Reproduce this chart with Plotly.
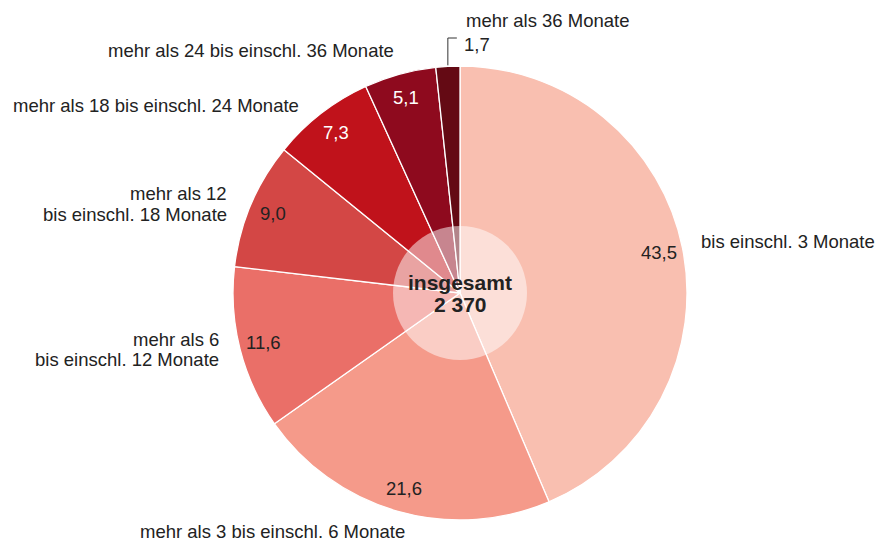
import math
import plotly.graph_objects as go

categories = [
    "bis einschl. 3 Monate",
    "mehr als 3 bis einschl. 6 Monate",
    "mehr als 6<br>bis einschl. 12 Monate",
    "mehr als 12<br>bis einschl. 18 Monate",
    "mehr als 18 bis einschl. 24 Monate",
    "mehr als 24 bis einschl. 36 Monate",
    "mehr als 36 Monate",
]
values = [43.5, 21.6, 11.6, 9.0, 7.3, 5.1, 1.7]
value_labels = ["43,5", "21,6", "11,6", "9,0", "7,3", "5,1", "1,7"]
center_title = "insgesamt"
center_total = "2 370"

colors = ["#F9BFB0", "#F59A8A", "#EA6F68", "#D34745", "#C0121B", "#8E0A1E", "#640A14"]
text_colors = ["#222222", "#222222", "#222222", "#222222", "#FFFFFF", "#FFFFFF", "#222222"]

W, H = 876, 543
cx, cy, R = 460, 293, 227
FONT = "Liberation Sans, Arial, Helvetica, sans-serif"
FS = 18.5


def px(x):
    return x / W


def py(y):
    return (H - y) / H


fig = go.Figure()
fig.add_trace(go.Pie(
    values=values,
    labels=categories,
    sort=False,
    direction="clockwise",
    rotation=0,
    marker=dict(colors=colors, line=dict(color="white", width=1.3)),
    textinfo="none",
    hoverinfo="label+value",
    showlegend=False,
    domain=dict(x=[px(cx - R), px(cx + R)], y=[py(cy + R), py(cy - R)]),
))

total = sum(values)
annotations = []
cum = 0.0
mids = []
for v in values:
    mid = (cum + v / 2) / total * 2 * math.pi
    mids.append(mid)
    cum += v

# value labels inside slices
r_in = 203
for i, (m, t) in enumerate(zip(mids, value_labels)):
    if i == len(values) - 1:
        continue
    x = cx + r_in * math.sin(m)
    y = cy - r_in * math.cos(m)
    annotations.append(dict(x=px(x), y=py(y), xref="paper", yref="paper", text=t,
                            xanchor="center", yanchor="middle",
                            showarrow=False, font=dict(size=FS, color=text_colors[i], family=FONT)))

# outer category labels (pixel positions of each line)
outer = [
    (699, [242], "left", categories[0]),
    (138, [531], "left", categories[1]),
    (221, [339, 359], "right", categories[2]),
    (229, [193, 214], "right", categories[3]),
    (301, [106], "right", categories[4]),
    (396, [51], "right", categories[5]),
    (464, [20], "left", categories[6]),
]
for x, ys, anc, t in outer:
    for y, line in zip(ys, t.split("<br>")):
        annotations.append(dict(x=px(x), y=py(y), xref="paper", yref="paper", text=line,
                                xanchor=anc, yanchor="middle", showarrow=False,
                                font=dict(size=FS, color="#222222", family=FONT)))

# small slice label with leader line
m = mids[-1]
lx = cx + R * math.sin(m)
ly = cy - R * math.cos(m)
annotations.append(dict(x=px(462), y=py(44), xref="paper", yref="paper", text=value_labels[-1],
                        xanchor="left", yanchor="middle", showarrow=False,
                        font=dict(size=FS, color="#222222", family=FONT)))

# center text
for y, t in [(282, center_title), (304, center_total)]:
    annotations.append(dict(x=px(cx), y=py(y), xref="paper", yref="paper",
                            text="<b>" + t + "</b>", xanchor="center", yanchor="middle",
                            showarrow=False, font=dict(size=21, color="#222222", family=FONT)))

shapes = [
    dict(type="circle", xref="paper", yref="paper",
         x0=px(cx - 67), x1=px(cx + 67), y0=py(cy + 67), y1=py(cy - 67),
         fillcolor="rgba(255,255,255,0.5)", line=dict(width=0), layer="above"),
    dict(type="path", xref="paper", yref="paper",
         path=f"M {px(lx)} {py(ly - 1)} L {px(lx)} {py(38)} L {px(lx + 9)} {py(38)}",
         line=dict(color="#333333", width=1)),
]

fig.update_layout(
    width=W, height=H,
    margin=dict(l=0, r=0, t=0, b=0),
    paper_bgcolor="white", plot_bgcolor="white",
    annotations=annotations, shapes=shapes,
)
fig.write_html("out.html", config={"displayModeBar": False},
               post_script="document.body.style.margin='0';")
